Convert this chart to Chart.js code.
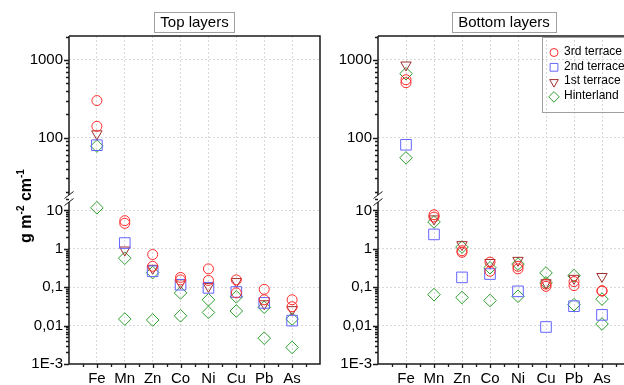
<!DOCTYPE html>
<html>
<head>
<meta charset="utf-8">
<script src="https://cdn.jsdelivr.net/npm/chart.js"></script>
<style>
  html, body { margin: 0; padding: 0; background: #fff; overflow: hidden; }
  #wrap { position: relative; width: 624px; height: 385px; overflow: hidden; background: #fff; }
  canvas { position: absolute; top: 0; }
  #left { left: 0; }
  #right { left: 320px; }
</style>
</head>
<body>
<div id="wrap">
  <canvas id="left" width="330" height="385"></canvas>
  <canvas id="right" width="320" height="385"></canvas>
</div>
<script>
const elements = ['Fe', 'Mn', 'Zn', 'Co', 'Ni', 'Cu', 'Pb', 'As'];
const yTickValues = [1000, 100, 10, 1, 0.1, 0.01, 0.001];
const yTickLabels = ['1000', '100', '10', '1', '0,1', '0,01', '1E-3'];
const seriesNames = ['3rd terrace', '2nd terrace', '1st terrace', 'Hinterland'];

// top layers, g m-2 cm-1 (two samples for 3rd terrace and hinterland)
const topTerrace3a = [300, 5.4, 0.71, 0.18, 0.30, 0.155, 0.088, 0.047];
const topTerrace3b = [140, 4.6, 0.35, 0.155, 0.15, 0.071, 0.047, 0.031];
const topTerrace2 = [80, 1.41, 0.26, 0.116, 0.096, 0.075, 0.039, 0.0135];
const topTerrace1 = [112, 0.93, 0.31, 0.13, 0.105, 0.14, 0.037, 0.026];
const topHinterA = [78, 0.57, 0.24, 0.071, 0.047, 0.056, 0.030, 0.0148];
const topHinterB = [11.7, 0.0148, 0.014, 0.018, 0.022, 0.024, 0.0047, 0.0027];

// bottom layers
const botTerrace3a = [556, 7.7, 0.89, 0.45, 0.35, 0.12, 0.14, 0.081];
const botTerrace3b = [509, 6.7, 0.81, 0.26, 0.30, 0.105, 0.11, 0.079];
const botTerrace2 = [81, 2.37, 0.18, 0.22, 0.078, 0.0092, 0.032, 0.019];
const botTerrace1 = [860, 6.0, 1.28, 0.44, 0.50, 0.13, 0.17, 0.19];
const botHinterA = [665, 5.0, 1.11, 0.32, 0.40, 0.235, 0.2, 0.049];
const botHinterB = [55, 0.064, 0.054, 0.045, 0.058, 0.13, 0.035, 0.011];

const BREAK = 18;

const styles = {
  '3rd terrace': {shape: 'circle', r: 5, rot: 0, color: '#ff2a2a', lr: 4},
  '2nd terrace': {shape: 'rect', r: 7.5, rot: 0, color: '#6464ff', lr: 5.5},
  '1st terrace': {shape: 'triangle', r: 6, rot: 180, color: '#a02c2c', lr: 5},
  'Hinterland': {shape: 'rectRot', r: 6.3, rot: 0, color: '#2e9e2e', lr: 5.3}
};

function buildDatasets(list) {
  const out = [];
  list.forEach(([name, values]) => {
    const st = styles[name];
    ['yTop', 'yBot'].forEach(axis => {
      const pts = [];
      values.forEach((v, i) => {
        if (v == null) return;
        if ((axis === 'yTop') === (v >= BREAK)) pts.push({x: i + 1, y: v});
      });
      out.push({
        label: name, data: pts, yAxisID: axis,
        pointStyle: st.shape, pointRadius: st.r, pointRotation: st.rot,
        borderColor: st.color, backgroundColor: 'rgba(0,0,0,0)', borderWidth: 1,
        showLine: false
      });
    });
  });
  return out;
}

function tickLabel(v) {
  for (let i = 0; i < yTickValues.length; i++) {
    if (Math.abs(Math.log10(v) - Math.log10(yTickValues[i])) < 1e-6) return yTickLabels[i];
  }
  return '';
}

function markerPath(ctx, shape, x, y, r) {
  ctx.beginPath();
  if (shape === 'circle') {
    ctx.arc(x, y, r, 0, Math.PI * 2);
  } else if (shape === 'rect') {
    const s = Math.SQRT1_2 * r;
    ctx.rect(x - s, y - s, 2 * s, 2 * s);
  } else if (shape === 'triangle') {
    ctx.moveTo(x - r * 0.866, y - r / 2);
    ctx.lineTo(x + r * 0.866, y - r / 2);
    ctx.lineTo(x, y + r);
    ctx.closePath();
  } else {
    ctx.moveTo(x, y - r); ctx.lineTo(x + r, y); ctx.lineTo(x, y + r); ctx.lineTo(x - r, y);
    ctx.closePath();
  }
}

const decor = {
  id: 'decor',
  afterDraw(chart, args, opts) {
    const ctx = chart.ctx;
    const {left, right, top, bottom} = chart.chartArea;
    const yTop = chart.scales.yTop, yBot = chart.scales.yBot, x = chart.scales.x;
    const by = yTop.bottom;
    ctx.save();
    ctx.strokeStyle = '#1a1a1a';
    ctx.lineWidth = 1.3;

    // tick marks
    ctx.beginPath();
    [yTop, yBot].forEach(s => {
      const e0 = Math.floor(Math.log10(s.min)), e1 = Math.ceil(Math.log10(s.max));
      for (let e = e0; e <= e1; e++) {
        for (let m = 1; m <= 9; m++) {
          const v = m * Math.pow(10, e);
          if (v < s.min * 0.999 || v > s.max * 1.001) continue;
          const py = Math.round(s.getPixelForValue(v)) + 0.5;
          const len = m === 1 ? 5 : 3;
          ctx.moveTo(left - len, py); ctx.lineTo(left, py);
        }
      }
    });
    for (let k = 0.5; k <= 8.5; k += 0.5) {
      const px = Math.round(x.getPixelForValue(k)) + 0.5;
      const len = Number.isInteger(k) ? 4 : 3;
      ctx.moveTo(px, bottom); ctx.lineTo(px, bottom + len);
    }
    ctx.stroke();

    // frame with axis break
    ctx.lineWidth = 1.5;
    ctx.beginPath();
    ctx.moveTo(left, top); ctx.lineTo(left, by - 3.5);
    ctx.moveTo(left, by + 3.5); ctx.lineTo(left, bottom);
    ctx.lineTo(right, bottom); ctx.lineTo(right, top); ctx.lineTo(left, top);
    ctx.stroke();
    ctx.lineWidth = 1;
    ctx.beginPath();
    [by - 3.5, by + 3.5].forEach(c => {
      ctx.moveTo(left - 4.5, c + 3.5); ctx.lineTo(left + 4.5, c - 3.5);
    });
    ctx.stroke();

    // panel title box
    ctx.font = '15px "Liberation Sans", Arial, sans-serif';
    ctx.textAlign = 'center';
    ctx.textBaseline = 'middle';
    const cx = (left + right) / 2;
    const tw = ctx.measureText(opts.title).width;
    ctx.strokeStyle = '#a0a0a0';
    ctx.lineWidth = 1;
    ctx.strokeRect(Math.round(cx - tw / 2 - 6) + 0.5, 12.5, Math.round(tw + 12), 20);
    ctx.fillStyle = '#000';
    ctx.fillText(opts.title, cx, 23);

    // y axis title
    if (opts.yTitle) {
      const parts = [['g m', 16, 0], ['-2', 10, -7], [' cm', 16, 0], ['-1', 10, -7]];
      ctx.save();
      ctx.translate(31, 206);
      ctx.rotate(-Math.PI / 2);
      ctx.textAlign = 'left';
      ctx.textBaseline = 'alphabetic';
      let total = 0;
      parts.forEach(p => { ctx.font = 'bold ' + p[1] + 'px "Liberation Sans", Arial'; total += ctx.measureText(p[0]).width; });
      let px = -total / 2;
      parts.forEach(p => {
        ctx.font = 'bold ' + p[1] + 'px "Liberation Sans", Arial';
        ctx.fillText(p[0], px, p[2]);
        px += ctx.measureText(p[0]).width;
      });
      ctx.restore();
    }

    // legend
    if (opts.legend) {
      const lx = 222, ly = 37;
      ctx.strokeStyle = '#a0a0a0';
      ctx.lineWidth = 1;
      ctx.strokeRect(lx + 0.5, ly + 0.5, 130, 75);
      ctx.font = '12px "Liberation Sans", Arial, sans-serif';
      ctx.textAlign = 'left';
      ctx.textBaseline = 'middle';
      seriesNames.forEach((name, i) => {
        const st = styles[name];
        const yy = ly + 14.5 + i * 14.8;
        ctx.strokeStyle = st.color;
        markerPath(ctx, st.shape, lx + 12, yy + 1, st.lr);
        ctx.stroke();
        ctx.fillStyle = '#000';
        ctx.fillText(name, lx + 22, yy);
      });
    }
    ctx.restore();
  }
};

function makeChart(id, list, panel) {
  const gridCol = '#d8d8d8';
  const yScale = (weight, min, max) => ({
    type: 'logarithmic', position: 'left', stack: 'y', stackWeight: weight,
    min: min, max: max,
    afterFit: s => { s.width = panel.yWidth; },
    ticks: {autoSkip: false, padding: 6, color: '#000', font: {size: 15}, callback: v => tickLabel(v)},
    grid: {drawTicks: false, color: c => (c.tick && tickLabel(c.tick.value) && c.tick.value > 0.0011) ? gridCol : 'rgba(0,0,0,0)'},
    border: {display: false, dash: [2, 2]}
  });
  return new Chart(document.getElementById(id), {
    type: 'scatter',
    data: {datasets: buildDatasets(list)},
    options: {
      responsive: false, animation: false, events: [],
      layout: {padding: {left: 0, right: panel.padRight, top: 36, bottom: 0}},
      plugins: {
        legend: {display: false}, tooltip: {enabled: false},
        decor: {title: panel.title, legend: panel.legend, yTitle: panel.yTitle}
      },
      scales: {
        x: {
          type: 'linear', min: 0, max: 9,
          afterFit: s => { s.height = 21; },
          ticks: {stepSize: 1, autoSkip: false, maxRotation: 0, padding: 6, color: '#000', font: {size: 15},
            callback: v => elements[v - 1] || ''},
          grid: {drawTicks: false, color: c => (c.tick && c.tick.value >= 1 && c.tick.value <= 8) ? gridCol : 'rgba(0,0,0,0)'},
          border: {display: false, dash: [2, 2]}
        },
        yBot: yScale(165.5, 0.001, 20.4),
        yTop: yScale(162.5, 16.5, 2030)
      }
    },
    plugins: [decor]
  });
}

Chart.defaults.font.family = '"Liberation Sans", Arial, sans-serif';

makeChart('left', [
  ['3rd terrace', topTerrace3a], ['3rd terrace', topTerrace3b],
  ['2nd terrace', topTerrace2], ['1st terrace', topTerrace1],
  ['Hinterland', topHinterA], ['Hinterland', topHinterB]
], {yWidth: 69, padRight: 10, title: 'Top layers', legend: false, yTitle: true});

makeChart('right', [
  ['3rd terrace', botTerrace3a], ['3rd terrace', botTerrace3b],
  ['2nd terrace', botTerrace2], ['1st terrace', botTerrace1],
  ['Hinterland', botHinterA], ['Hinterland', botHinterB]
], {yWidth: 58, padRight: 10, title: 'Bottom layers', legend: true, yTitle: false});
</script>
</body>
</html>
